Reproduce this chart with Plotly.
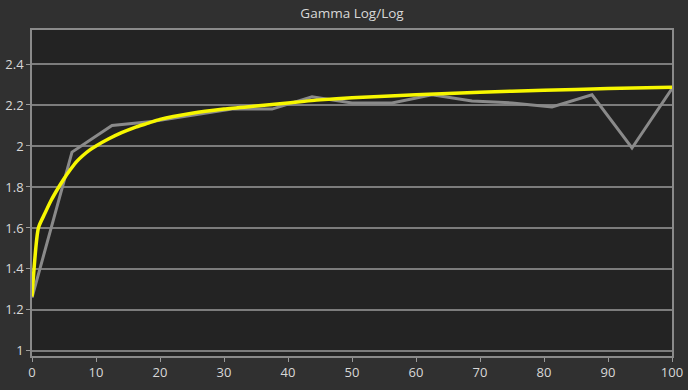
import plotly.graph_objects as go

# Measured gamma (gray) at 6.25% steps
measured_x = [0, 6.25, 12.5, 18.75, 25, 31.25, 37.5, 43.75, 50, 56.25, 62.5,
              68.75, 75, 81.25, 87.5, 93.75, 100]
measured_y = [1.26, 1.97, 2.10, 2.12, 2.15, 2.18, 2.18, 2.24, 2.21, 2.21, 2.25,
              2.22, 2.21, 2.19, 2.25, 1.99, 2.28]

# Target gamma curve (yellow)
target_x = [0, 1, 2, 3, 4, 5, 6, 7, 8, 9, 10, 12, 14, 16, 18, 20, 25, 30, 35,
            40, 45, 50, 60, 70, 80, 90, 100]
target_y = [1.265, 1.6, 1.67, 1.735, 1.79, 1.84, 1.885, 1.925, 1.955, 1.98, 2.0,
            2.035, 2.065, 2.09, 2.11, 2.13, 2.16, 2.18, 2.195, 2.21, 2.225, 2.235,
            2.25, 2.262, 2.272, 2.28, 2.286]

x_ticks = [0, 10, 20, 30, 40, 50, 60, 70, 80, 90, 100]
y_ticks = [1, 1.2, 1.4, 1.6, 1.8, 2, 2.2, 2.4]

fig = go.Figure()
fig.add_trace(go.Scatter(x=measured_x, y=measured_y, mode="lines",
                         line=dict(color="#8a8a8a", width=3), hoverinfo="skip"))
fig.add_trace(go.Scatter(x=target_x, y=target_y, mode="lines",
                         line=dict(color="#f7f700", width=3.5, shape="spline", smoothing=0.6),
                         hoverinfo="skip"))

axis_common = dict(showline=True, linecolor="#8a8a8a", linewidth=1.5, mirror=True,
                   ticks="outside", ticklen=4, tickcolor="#9a9a9a", tickwidth=1,
                   zeroline=False, automargin=False,
                   tickfont=dict(size=13, color="#d8d8d8"))

fig.update_xaxes(range=[0, 100], tickvals=x_ticks, showgrid=False, **axis_common)
fig.update_yaxes(range=[0.975, 2.566], tickvals=y_ticks, showgrid=True,
                 gridcolor="#7c7c7c", gridwidth=1.5, **axis_common)

fig.update_layout(
    width=688, height=390,
    margin=dict(l=32, r=16, t=30, b=34),
    paper_bgcolor="#303030",
    plot_bgcolor="#232323",
    showlegend=False,
    font=dict(family="Open Sans, Noto Sans, sans-serif", color="#d8d8d8"),
    title=dict(text="Gamma Log/Log", x=0.5, xref="paper", xanchor="center",
               y=1, yref="container", yanchor="top", pad=dict(t=9),
               font=dict(size=13.5, color="#d8d8d8"), automargin=False),
)

fig.write_html(
    "out.html",
    config={"displayModeBar": False},
    post_script="document.body.style.margin='0';document.body.style.background='#303030';",
)
